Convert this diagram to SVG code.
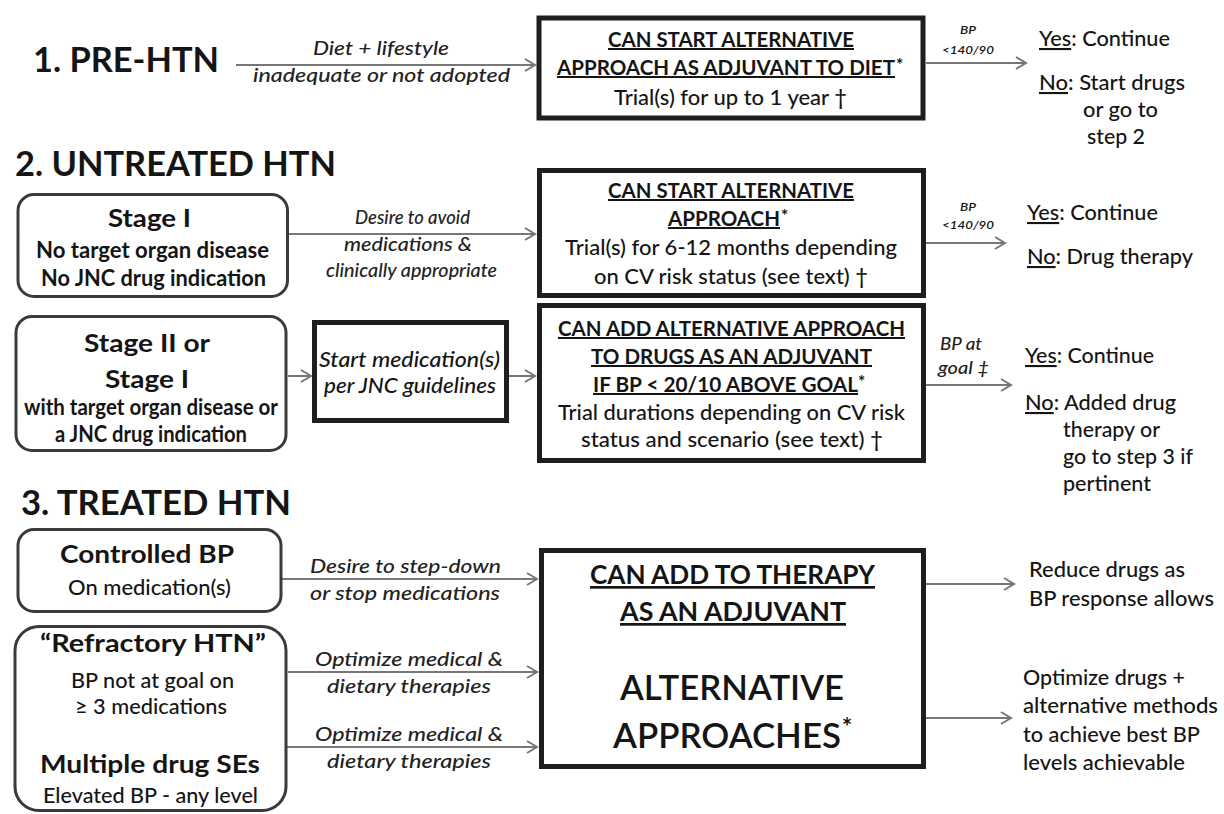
<svg xmlns="http://www.w3.org/2000/svg" width="1224" height="814" viewBox="0 0 1224 814">
<defs>
<marker id="arr" markerUnits="userSpaceOnUse" markerWidth="14" markerHeight="16" refX="11" refY="7" orient="auto">
<path d="M1,1 L11,7 L1,13" fill="none" stroke="#777" stroke-width="2"/>
</marker>
<style>
text{font-family:Lato,"Liberation Sans",sans-serif;fill:#151515;font-weight:500}
.title{font-size:35px;font-weight:bold}
.hd{font-size:25px;font-weight:bold}
.sb{font-size:22px;font-weight:bold}
.sr{font-size:21px}
.bh{font-size:20px;font-weight:bold}
.bb{font-size:21px}
.lb{font-size:20px;font-style:italic;fill:#222}
.bp{font-size:12px;font-style:italic;font-weight:600}
.rt{font-size:21px}
.ast{font-size:17px;font-weight:bold}
.u{text-decoration:underline}
.box{fill:#fff;stroke:#1e1e1e;stroke-width:5}
.rbox{fill:#fff;stroke:#3a3a3a;stroke-width:3}
.con line{stroke:#777;stroke-width:2;marker-end:url(#arr)}
</style>
</defs>
<rect width="1224" height="814" fill="#fff"/>

<g id="titles">
<text class="title" x="33" y="72" textLength="186" lengthAdjust="spacingAndGlyphs">1. PRE-HTN</text>
<text class="title" x="15" y="176" textLength="321" lengthAdjust="spacingAndGlyphs">2. UNTREATED HTN</text>
<text class="title" x="21" y="515" textLength="270" lengthAdjust="spacingAndGlyphs">3. TREATED HTN</text>
</g>

<g class="con" id="connectors">
<line x1="236" y1="65" x2="535" y2="65"/>
<line x1="926" y1="63" x2="1026" y2="63"/>
<line x1="289" y1="234" x2="535" y2="234"/>
<line x1="926" y1="243" x2="1005" y2="243"/>
<line x1="288" y1="376" x2="311" y2="376"/>
<line x1="509" y1="376" x2="535" y2="376"/>
<line x1="926" y1="385" x2="1011" y2="385"/>
<line x1="282" y1="579" x2="537" y2="579"/>
<line x1="288" y1="672" x2="537" y2="672"/>
<line x1="282" y1="747" x2="537" y2="747"/>
<line x1="926" y1="584" x2="1014" y2="584"/>
<line x1="926" y1="718" x2="1011" y2="718"/>
</g>

<g id="labels">
<text class="lb" x="313" y="55" textLength="136" lengthAdjust="spacingAndGlyphs">Diet + lifestyle</text>
<text class="lb" x="253" y="82" textLength="257" lengthAdjust="spacingAndGlyphs">inadequate or not adopted</text>
<text class="bp" x="960" y="34" textLength="16" lengthAdjust="spacingAndGlyphs">BP</text>
<text class="bp" x="942" y="54" textLength="52" lengthAdjust="spacingAndGlyphs">&lt;140/90</text>
<text class="lb" x="355" y="224" textLength="115" lengthAdjust="spacingAndGlyphs">Desire to avoid</text>
<text class="lb" x="344" y="251" textLength="128" lengthAdjust="spacingAndGlyphs">medications &amp;</text>
<text class="lb" x="326" y="277" textLength="171" lengthAdjust="spacingAndGlyphs">clinically appropriate</text>
<text class="bp" x="960" y="211" textLength="16" lengthAdjust="spacingAndGlyphs">BP</text>
<text class="bp" x="942" y="229" textLength="52" lengthAdjust="spacingAndGlyphs">&lt;140/90</text>
<text class="lb" x="940" y="350" style="font-size:17px" textLength="42" lengthAdjust="spacingAndGlyphs">BP at</text>
<text class="lb" x="938" y="374" style="font-size:17px" textLength="51" lengthAdjust="spacingAndGlyphs">goal ‡</text>
<text class="lb" x="310" y="573" textLength="191" lengthAdjust="spacingAndGlyphs">Desire to step-down</text>
<text class="lb" x="310" y="600" textLength="190" lengthAdjust="spacingAndGlyphs">or stop medications</text>
<text class="lb" x="315" y="666" textLength="188" lengthAdjust="spacingAndGlyphs">Optimize medical &amp;</text>
<text class="lb" x="327" y="693" textLength="164" lengthAdjust="spacingAndGlyphs">dietary therapies</text>
<text class="lb" x="315" y="741" textLength="188" lengthAdjust="spacingAndGlyphs">Optimize medical &amp;</text>
<text class="lb" x="327" y="768" textLength="164" lengthAdjust="spacingAndGlyphs">dietary therapies</text>
</g>

<g id="box1">
<rect class="box" x="539" y="18" width="384" height="100"/>
<text class="bh" x="608" y="47" textLength="246" lengthAdjust="spacingAndGlyphs"><tspan class="u">CAN START ALTERNATIVE</tspan></text>
<text class="bh" x="557" y="75" textLength="338" lengthAdjust="spacingAndGlyphs"><tspan class="u">APPROACH AS ADJUVANT TO DIET</tspan></text>
<text class="ast" x="896" y="71">*</text>
<text class="bb" x="614" y="105" textLength="233" lengthAdjust="spacingAndGlyphs">Trial(s) for up to 1 year †</text>
</g>

<g id="out1">
<text class="rt" x="1039" y="46" textLength="131" lengthAdjust="spacingAndGlyphs"><tspan class="u">Yes</tspan>: Continue</text>
<text class="rt" x="1039" y="90" textLength="146" lengthAdjust="spacingAndGlyphs"><tspan class="u">No</tspan>: Start drugs</text>
<text class="rt" x="1083" y="117" textLength="75" lengthAdjust="spacingAndGlyphs">or go to</text>
<text class="rt" x="1087" y="144" textLength="58" lengthAdjust="spacingAndGlyphs">step 2</text>
</g>

<g id="stage1">
<rect class="rbox" x="18" y="194.5" width="269.5" height="102" rx="16"/>
<text class="hd" x="108" y="227" textLength="83" lengthAdjust="spacingAndGlyphs">Stage I</text>
<text class="sb" x="36" y="258" textLength="233" lengthAdjust="spacingAndGlyphs">No target organ disease</text>
<text class="sb" x="41" y="286" textLength="225" lengthAdjust="spacingAndGlyphs">No JNC drug indication</text>
</g>

<g id="box2">
<rect class="box" x="539.5" y="170.5" width="384" height="125"/>
<text class="bh" x="608" y="198" textLength="246" lengthAdjust="spacingAndGlyphs"><tspan class="u">CAN START ALTERNATIVE</tspan></text>
<text class="bh" x="668" y="226" textLength="112" lengthAdjust="spacingAndGlyphs"><tspan class="u">APPROACH</tspan></text>
<text class="ast" x="781" y="222">*</text>
<text class="bb" x="565" y="255" textLength="332" lengthAdjust="spacingAndGlyphs">Trial(s) for 6-12 months depending</text>
<text class="bb" x="594" y="284" textLength="274" lengthAdjust="spacingAndGlyphs">on CV risk status (see text) †</text>
</g>

<g id="out2">
<text class="rt" x="1027" y="220" textLength="131" lengthAdjust="spacingAndGlyphs"><tspan class="u">Yes</tspan>: Continue</text>
<text class="rt" x="1027" y="264" textLength="166" lengthAdjust="spacingAndGlyphs"><tspan class="u">No</tspan>: Drug therapy</text>
</g>

<g id="stage2">
<rect class="rbox" x="16" y="316.5" width="270" height="134" rx="16"/>
<text class="hd" x="84" y="352" textLength="126" lengthAdjust="spacingAndGlyphs">Stage II or</text>
<text class="hd" x="105" y="388" textLength="84" lengthAdjust="spacingAndGlyphs">Stage I</text>
<text class="sb" x="24" y="415" textLength="254" lengthAdjust="spacingAndGlyphs">with target organ disease or</text>
<text class="sb" x="55" y="442" textLength="192" lengthAdjust="spacingAndGlyphs">a JNC drug indication</text>
</g>

<g id="startmed">
<rect class="box" x="314.5" y="322.5" width="192" height="98"/>
<text class="lb" x="319" y="367" style="font-size:22px;fill:#151515" textLength="181" lengthAdjust="spacingAndGlyphs">Start medication(s)</text>
<text class="lb" x="324" y="393" style="font-size:22px;fill:#151515" textLength="172" lengthAdjust="spacingAndGlyphs">per JNC guidelines</text>
</g>

<g id="box3">
<rect class="box" x="539.5" y="305.5" width="384" height="155"/>
<text class="bh" x="558" y="336" textLength="347" lengthAdjust="spacingAndGlyphs"><tspan class="u">CAN ADD ALTERNATIVE APPROACH</tspan></text>
<text class="bh" x="591" y="364" textLength="281" lengthAdjust="spacingAndGlyphs"><tspan class="u">TO DRUGS AS AN ADJUVANT</tspan></text>
<text class="bh" x="593" y="392" textLength="265" lengthAdjust="spacingAndGlyphs"><tspan class="u">IF BP &lt; 20/10 ABOVE GOAL</tspan></text>
<text class="ast" x="858" y="388">*</text>
<text class="bb" x="558" y="420" textLength="347" lengthAdjust="spacingAndGlyphs">Trial durations depending on CV risk</text>
<text class="bb" x="581" y="447" textLength="302" lengthAdjust="spacingAndGlyphs">status and scenario (see text) †</text>
</g>

<g id="out3">
<text class="rt" x="1025" y="363" textLength="129" lengthAdjust="spacingAndGlyphs"><tspan class="u">Yes</tspan>: Continue</text>
<text class="rt" x="1025" y="410" textLength="151" lengthAdjust="spacingAndGlyphs"><tspan class="u">No</tspan>: Added drug</text>
<text class="rt" x="1063" y="437" textLength="97" lengthAdjust="spacingAndGlyphs">therapy or</text>
<text class="rt" x="1063" y="464" textLength="130" lengthAdjust="spacingAndGlyphs">go to step 3 if</text>
<text class="rt" x="1063" y="491" textLength="88" lengthAdjust="spacingAndGlyphs">pertinent</text>
</g>

<g id="controlled">
<rect class="rbox" x="18" y="529.5" width="263" height="82" rx="16"/>
<text class="hd" x="60" y="563" textLength="174" lengthAdjust="spacingAndGlyphs">Controlled BP</text>
<text class="sr" x="68" y="595" textLength="163" lengthAdjust="spacingAndGlyphs">On medication(s)</text>
</g>

<g id="refractory">
<rect class="rbox" x="15" y="626.5" width="271" height="184" rx="24"/>
<text class="hd" x="40" y="652" textLength="226" lengthAdjust="spacingAndGlyphs">“Refractory HTN”</text>
<text class="sr" x="71" y="688" textLength="163" lengthAdjust="spacingAndGlyphs">BP not at goal on</text>
<text class="sr" x="75" y="714" textLength="152" lengthAdjust="spacingAndGlyphs">≥ 3 medications</text>
<text class="hd" x="40" y="773" textLength="220" lengthAdjust="spacingAndGlyphs">Multiple drug SEs</text>
<text class="sr" x="43" y="803" textLength="215" lengthAdjust="spacingAndGlyphs">Elevated BP - any level</text>
</g>

<g id="box4">
<rect class="box" x="541.5" y="550.5" width="382" height="216"/>
<text class="hd" x="590" y="584" style="font-size:27px" textLength="285" lengthAdjust="spacingAndGlyphs"><tspan class="u">CAN ADD TO THERAPY</tspan></text>
<text class="hd" x="620" y="621" style="font-size:27px" textLength="226" lengthAdjust="spacingAndGlyphs"><tspan class="u">AS AN ADJUVANT</tspan></text>
<text class="hd" x="620" y="700" style="font-size:35px;font-weight:600" textLength="224" lengthAdjust="spacingAndGlyphs">ALTERNATIVE</text>
<text class="hd" x="613" y="748" style="font-size:35px;font-weight:600" textLength="228" lengthAdjust="spacingAndGlyphs">APPROACHES</text>
<text class="ast" x="842" y="736" style="font-size:24px">*</text>
</g>

<g id="out4">
<text class="rt" x="1029" y="577" textLength="156" lengthAdjust="spacingAndGlyphs">Reduce drugs as</text>
<text class="rt" x="1029" y="606" textLength="185" lengthAdjust="spacingAndGlyphs">BP response allows</text>
<text class="rt" x="1023" y="685" textLength="162" lengthAdjust="spacingAndGlyphs">Optimize drugs +</text>
<text class="rt" x="1023" y="713" textLength="195" lengthAdjust="spacingAndGlyphs">alternative methods</text>
<text class="rt" x="1023" y="742" textLength="177" lengthAdjust="spacingAndGlyphs">to achieve best BP</text>
<text class="rt" x="1023" y="770" textLength="162" lengthAdjust="spacingAndGlyphs">levels achievable</text>
</g>
</svg>
